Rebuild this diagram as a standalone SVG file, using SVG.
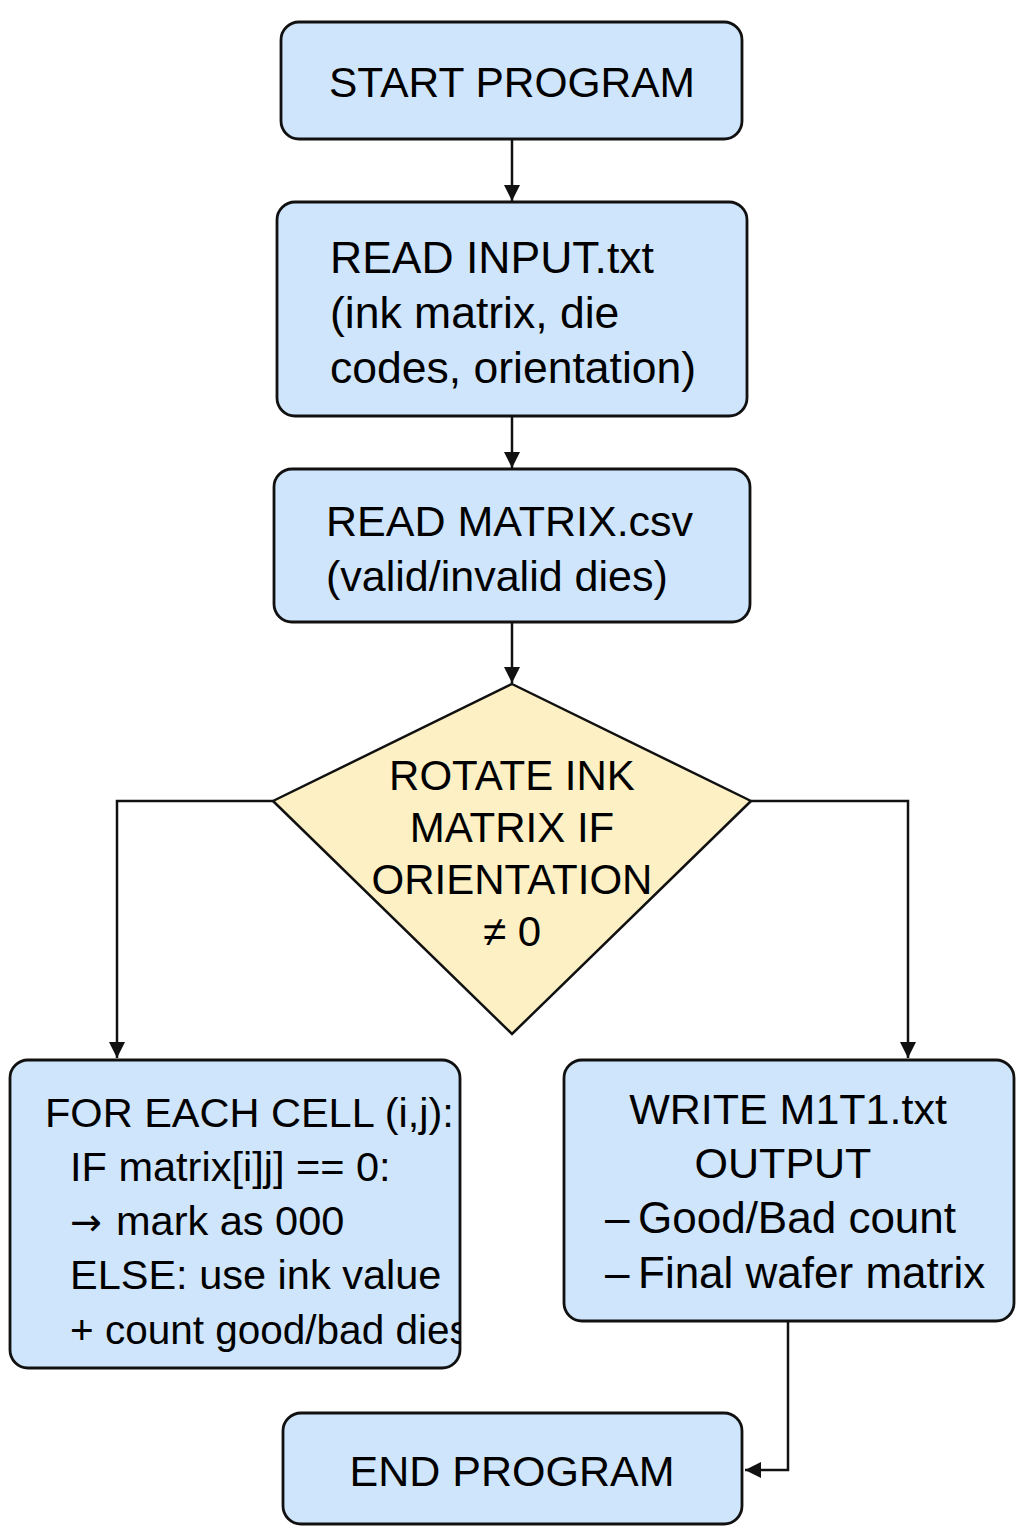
<svg xmlns="http://www.w3.org/2000/svg" width="1024" height="1536" viewBox="0 0 1024 1536">
<style>
.box{fill:#cfe5fb;stroke:#111;stroke-width:2.8}
.dia{fill:#fdf0c4;stroke:#111;stroke-width:2.5}
.t{font-family:"Liberation Sans",Arial,sans-serif;font-size:42px;fill:#000}
.c{text-anchor:middle}
.ln{fill:none;stroke:#111;stroke-width:2.5}
</style>
<defs>
<marker id="a" viewBox="0 0 12 12" refX="12" refY="6" markerWidth="16" markerHeight="16" markerUnits="userSpaceOnUse" orient="auto">
<path d="M0,0 L12,6 L0,12 z" fill="#111"/>
</marker>
<clipPath id="clipL"><rect x="10" y="1060" width="450" height="308" rx="18"/></clipPath>
</defs>
<rect width="1024" height="1536" fill="#fff"/>
<g id="connectors">
<line class="ln" x1="512" y1="139" x2="512" y2="201" marker-end="url(#a)"/>
<line class="ln" x1="512" y1="416" x2="512" y2="468" marker-end="url(#a)"/>
<line class="ln" x1="512" y1="622" x2="512" y2="683" marker-end="url(#a)"/>
<polyline class="ln" points="273,801 117,801 117,1058" marker-end="url(#a)"/>
<polyline class="ln" points="751,801 908,801 908,1058" marker-end="url(#a)"/>
<polyline class="ln" points="788,1321 788,1470 745,1470" marker-end="url(#a)"/>
</g>
<g id="start">
<rect class="box" x="281" y="22" width="461" height="117" rx="18"/>
<text class="t c" x="512" y="97" style="font-size:42.5px">START PROGRAM</text>
</g>
<g id="read-input">
<rect class="box" x="277" y="202" width="470" height="214" rx="18"/>
<text class="t" x="330" y="273" style="font-size:44.5px">READ INPUT.txt</text>
<text class="t" x="330" y="328" style="font-size:44.5px">(ink matrix, die</text>
<text class="t" x="330" y="383" style="font-size:44.5px">codes, orientation)</text>
</g>
<g id="read-matrix">
<rect class="box" x="274" y="469" width="476" height="153" rx="18"/>
<text class="t" x="326" y="536" style="font-size:43px">READ MATRIX.csv</text>
<text class="t" x="326" y="591" style="font-size:43px">(valid/invalid dies)</text>
</g>
<g id="rotate">
<polygon class="dia" points="512,684 751,801 512,1034 273,801"/>
<text class="t c" x="512" y="790">ROTATE INK</text>
<text class="t c" x="512" y="842">MATRIX IF</text>
<text class="t c" x="512" y="894">ORIENTATION</text>
<text class="t c" x="512" y="946">≠ 0</text>
</g>
<g id="for-each">
<rect class="box" x="10" y="1060" width="450" height="308" rx="18"/>
<g clip-path="url(#clipL)">
<text class="t" x="45" y="1127" style="font-size:41.5px">FOR EACH CELL (i,j):</text>
<text class="t" x="70" y="1181" style="font-size:41.5px">IF matrix[i]j] == 0:</text>
<text class="t" x="70" y="1235" style="font-size:41.5px"><tspan style="font-family:'DejaVu Sans',sans-serif;font-size:38px">→</tspan><tspan x="116">mark as 000</tspan></text>
<text class="t" x="70" y="1289" style="font-size:41.5px">ELSE: use ink value</text>
<text class="t" x="70" y="1344" style="font-size:40.5px">+ count good/bad dies</text>
</g>
</g>
<g id="write">
<rect class="box" x="564" y="1060" width="450" height="261" rx="18"/>
<text class="t c" x="788" y="1124" style="font-size:43px">WRITE M1T1.txt</text>
<text class="t c" x="783" y="1178" style="font-size:43px">OUTPUT</text>
<text class="t" x="605" y="1233" style="font-size:44px">–<tspan x="638">Good/Bad count</tspan></text>
<text class="t" x="605" y="1288" style="font-size:44px">–<tspan x="638">Final wafer matrix</tspan></text>
</g>
<g id="end">
<rect class="box" x="283" y="1413" width="459" height="111" rx="18"/>
<text class="t c" x="512" y="1486" style="font-size:43px">END PROGRAM</text>
</g>
</svg>
